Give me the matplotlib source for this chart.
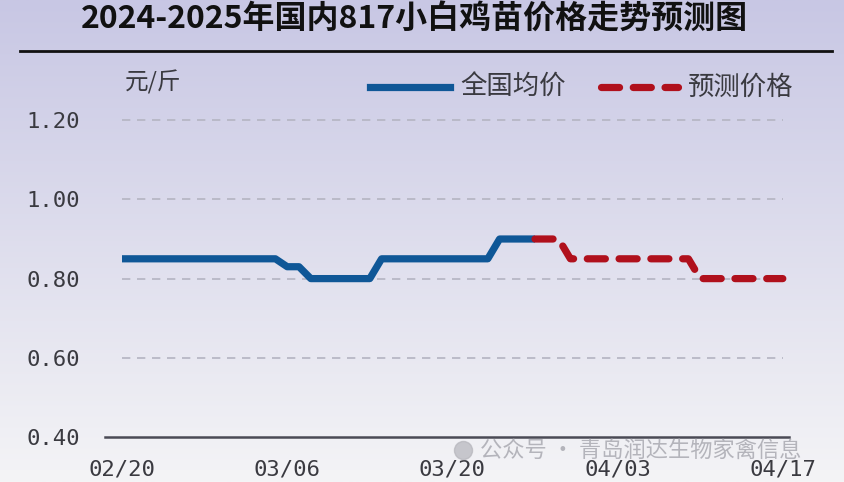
import numpy as np
import matplotlib
matplotlib.use('Agg')
import matplotlib.pyplot as plt
from matplotlib.lines import Line2D

plt.rcParams['font.family'] = ['Noto Sans CJK SC', 'DejaVu Sans']

# 数据 (天数, 以02/20为0)
dias_real = [0, 13, 14, 15, 16, 21, 22, 31, 32, 35]
precio_real = [0.85, 0.85, 0.83, 0.83, 0.80, 0.80, 0.85, 0.85, 0.90, 0.90]
dias_pred = [35, 37, 38, 48, 49, 56]
precio_pred = [0.90, 0.90, 0.85, 0.85, 0.80, 0.80]
xticks_pos = [0, 14, 28, 42, 56]
xticks_lab = ['02/20', '03/06', '03/20', '04/03', '04/17']
yticks_pos = [0.40, 0.60, 0.80, 1.00, 1.20]
titulo = '2024-2025年国内817小白鸡苗价格走势预测图'

W, H = 845, 482
fig = plt.figure(figsize=(W / 100, H / 100), dpi=100)

# fondo degradado
bg = fig.add_axes([0, 0, 1, 1], zorder=-10)
top = np.array([200, 199, 228]) / 255
bot = np.array([244, 244, 246]) / 255
t = np.linspace(0, 1, 256)[:, None]
grad = top * (1 - t) + bot * t
bg.imshow(grad[:, None, :], aspect='auto', extent=[0, 1, 0, 1])
bg.axis('off')

# ejes
x0, x1 = -1.45, 56.5
px_dia = 11.8
left = (122 + x0 * px_dia) / W
right = (122 + x1 * px_dia) / W
y_bot = 437
px_unit = 396
ylim_top = 1.22
ax = fig.add_axes([left, 1 - y_bot / H, right - left, (ylim_top - 0.40) * px_unit / H])
ax.set_facecolor('none')
ax.set_xlim(x0, x1)
ax.set_ylim(0.40, ylim_top)

for y in yticks_pos[1:]:
    ax.plot([0, 56], [y, y], color='#b4b4c2', lw=1.2, ls=(0, (5, 4)), zorder=1)

ax.plot(dias_real, precio_real, color='#0f5797', lw=5.2, solid_capstyle='butt',
        solid_joinstyle='round', zorder=3)
ax.plot(dias_pred, precio_pred, color='#b0101c', lw=5.2, dashes=(2.5, 1.9),
        dash_capstyle='round', dash_joinstyle='round', zorder=4)

for s in ['top', 'right', 'left']:
    ax.spines[s].set_visible(False)
ax.spines['bottom'].set_color('#4a4a55')
ax.spines['bottom'].set_linewidth(1.8)

ax.set_yticks(yticks_pos)
ax.set_yticklabels(['%.2f' % v for v in yticks_pos], family='DejaVu Sans Mono',
                   fontsize=16, color='#3a3a40')
ax.set_xticks(xticks_pos)
ax.set_xticklabels(xticks_lab, family='DejaVu Sans Mono', fontsize=16, color='#3a3a40')
ax.tick_params(axis='y', length=0, pad=18)
ax.tick_params(axis='x', length=0, pad=16)

# título
fig.text(0.491, 1 - 20 / H, titulo, ha='center', va='center', fontsize=23,
         fontweight='bold', color='#111111')
fig.add_artist(Line2D([20 / W, 832 / W], [1 - 51 / H, 1 - 51 / H], color='#111111', lw=2))

# unidad y leyenda
fig.text(125 / W, 1 - 82 / H, '元/斤', ha='left', va='center', fontsize=17, color='#3a3a40')
yl = 1 - 87 / H
fig.add_artist(Line2D([370 / W, 450 / W], [yl, yl], color='#0f5797', lw=5.2))
fig.text(460 / W, yl, '全国均价', ha='left', va='center', fontsize=19, color='#3a3a40')
fig.add_artist(Line2D([601 / W, 678 / W], [yl, yl], color='#b0101c', lw=5.2,
                      dashes=(2.5, 1.9), dash_capstyle='round'))
fig.text(688 / W, yl, '预测价格', ha='left', va='center', fontsize=19, color='#3a3a40')

# marca de agua
fig.add_artist(Line2D([463 / W], [1 - 450 / H], marker='o', markersize=13,
                      color='#b5b5bb', alpha=0.7))
fig.text(480 / W, 1 - 450 / H, '公众号 · 青岛润达生物家禽信息', ha='left', va='center',
         fontsize=16, color='#a0a0a8', alpha=0.75)

fig.savefig('out.png', dpi=100)
